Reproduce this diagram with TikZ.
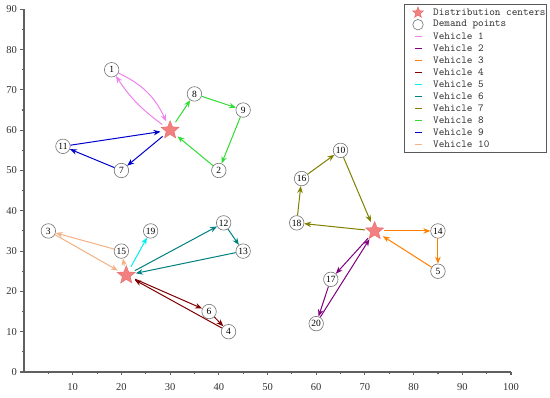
\documentclass[tikz,border=0pt]{standalone}
\usepackage{fontspec}
\setmainfont{Liberation Serif}
\usetikzlibrary{shapes.geometric,arrows.meta}
\definecolor{axisgray}{RGB}{96,96,96}
\definecolor{labgray}{RGB}{50,50,50}
\definecolor{vone}{RGB}{238,130,238}
\definecolor{vtwo}{RGB}{128,0,128}
\definecolor{vthree}{RGB}{255,128,0}
\definecolor{vfour}{RGB}{128,0,0}
\definecolor{vfive}{RGB}{0,240,240}
\definecolor{vsix}{RGB}{0,128,128}
\definecolor{vseven}{RGB}{128,128,0}
\definecolor{veight}{RGB}{50,220,50}
\definecolor{vnine}{RGB}{0,0,205}
\definecolor{vten}{RGB}{244,177,131}
\definecolor{starfill}{RGB}{242,128,128}
\definecolor{stardraw}{RGB}{232,105,105}
\tikzset{
  axis/.style={draw=axisgray, line width=1.1pt},
  ticklab/.style={inner sep=0pt, text=labgray, font=\fontsize{10.5}{12}\selectfont},
  dp/.style={circle, draw=black!55, line width=0.6pt, fill=white, minimum size=14.5pt, inner sep=0pt, font=\fontsize{9.5}{10}\selectfont},
  dc/.style={circle, minimum size=19pt, inner sep=0pt},
  dcstar/.style={star, star points=5, star point ratio=2.3, minimum size=19pt, inner sep=0pt, fill=starfill, draw=stardraw, line width=0.4pt},
  route/.style={line width=1pt, -{Stealth[length=7pt,width=5.5pt]}},
  legbox/.style={draw=black!65, line width=0.8pt},
  legtext/.style={anchor=west, inner sep=0pt, text=black!80, font=\ttfamily\fontsize{10.7}{12}\selectfont},
  legline/.style={line width=1.6pt}
}
\begin{document}
\begin{tikzpicture}[x=1pt,y=1pt]
\useasboundingbox (0,0) rectangle (550,-398);
\fill[white] (0,0) rectangle (550,-398);
\begin{scope}[shift={(24pt,-372pt)}, x=4.87pt, y=4.03pt]
  % axes
  \draw[axis] (0,0) -- (100,0);
  \draw[axis] (0,0) -- (0,90);
  \foreach \i in {10,20,...,100} {
    \draw[axis] (\i,0) -- ++(0,-3.5pt);
    \node[ticklab] at ([yshift=-15pt]\i,0) {\i};
  }
  \foreach \i in {5,15,...,95} \draw[axis] (\i,0) -- ++(0,-2pt);
  \foreach \j in {0,10,...,90} {
    \draw[axis] (0,\j) -- ++(-4pt,0);
    \node[ticklab, anchor=east] at ([xshift=-7pt]0,\j) {\j};
  }
  \foreach \j in {5,15,...,85} \draw[axis] (0,\j) -- ++(-2pt,0);

  % distribution centers
  \node[dc] (d1) at (30,60) {};
  \node[dc] (d2) at (72,35) {};
  \node[dc] (d3) at (21,24) {};

  % demand points
  \node[dp] (n1) at (18,75) {1};
  \node[dp] (n2) at (40,50) {2};
  \node[dp] (n3) at (5,35) {3};
  \node[dp] (n4) at (42,10) {4};
  \node[dp] (n5) at (85,25) {5};
  \node[dp] (n6) at (38,15) {6};
  \node[dp] (n7) at (20,50) {7};
  \node[dp] (n8) at (35,69) {8};
  \node[dp] (n9) at (45,65) {9};
  \node[dp] (n10) at (65,55) {10};
  \node[dp] (n11) at (8,56) {11};
  \node[dp] (n12) at (41,37) {12};
  \node[dp] (n13) at (45,30) {13};
  \node[dp] (n14) at (85,35) {14};
  \node[dp] (n15) at (20,30) {15};
  \node[dp] (n16) at (57,48) {16};
  \node[dp] (n17) at (63,23) {17};
  \node[dp] (n18) at (56,37) {18};
  \node[dp] (n19) at (26,35) {19};
  \node[dp] (n20) at (60,12) {20};

  % routes
  \draw[route,vone] (n1) to[bend left=20] (d1);
  \draw[route,vone] (d1) to[bend left=10] (n1);

  \draw[route,vtwo] (d2) -- (n17);
  \draw[route,vtwo] (n17) -- (n20);
  \draw[route,vtwo] (n20) -- (d2);

  \draw[route,vthree] (d2) -- (n14);
  \draw[route,vthree] (n14) -- (n5);
  \draw[route,vthree] (n5) -- (d2);

  \draw[route,vfour] (d3) -- (n6);
  \draw[route,vfour] (n6) -- (n4);
  \draw[route,vfour] (n4) -- (d3);

  \draw[route,vfive] (d3) -- (n19);

  \draw[route,vsix] (d3) -- (n12);
  \draw[route,vsix] (n12) -- (n13);
  \draw[route,vsix] (n13) -- (d3);

  \draw[route,vseven] (d2) -- (n18);
  \draw[route,vseven] (n18) -- (n16);
  \draw[route,vseven] (n16) -- (n10);
  \draw[route,vseven] (n10) -- (d2);

  \draw[route,veight] (d1) -- (n8);
  \draw[route,veight] (n8) -- (n9);
  \draw[route,veight] (n9) -- (n2);
  \draw[route,veight] (n2) -- (d1);

  \draw[route,vnine] (d1) -- (n7);
  \draw[route,vnine] (n7) -- (n11);
  \draw[route,vnine] (n11) -- (d1);

  \draw[route,vten] (d3) -- (n15);
  \draw[route,vten] (n15) -- (n3);
  \draw[route,vten] (n3) -- (d3);

  % stars on top
  \node[dcstar] (s1) at (d1) {};
  \node[dcstar] (s2) at (d2) {};
  \node[dcstar] (s3) at (d3) {};
\end{scope}

% legend
\draw[legbox] (404,-4) rectangle (546,-152);
\node[dcstar, minimum size=11.5pt] (ls) at (418,-12.7) {};
\node[legtext] (lt0) at (433,-12.7) {Distribution centers};
\node[circle, draw=black!55, line width=0.6pt, minimum size=10.5pt, inner sep=0pt] (lc) at (418,-24.7) {};
\node[legtext] (lt1) at (433,-24.7) {Demand points};
\foreach \k/\c in {1/vone,2/vtwo,3/vthree,4/vfour,5/vfive,6/vsix,7/vseven,8/veight,9/vnine,10/vten} {
  \coordinate (la\k) at (414.5,{-24.7-12*\k});
  \coordinate (lb\k) at (421.5,{-24.7-12*\k});
  \draw[legline,\c] (la\k) -- (lb\k);
  \node[legtext] (lv\k) at (433,{-24.7-12*\k}) {Vehicle \k};
}
\end{tikzpicture}
\end{document}
